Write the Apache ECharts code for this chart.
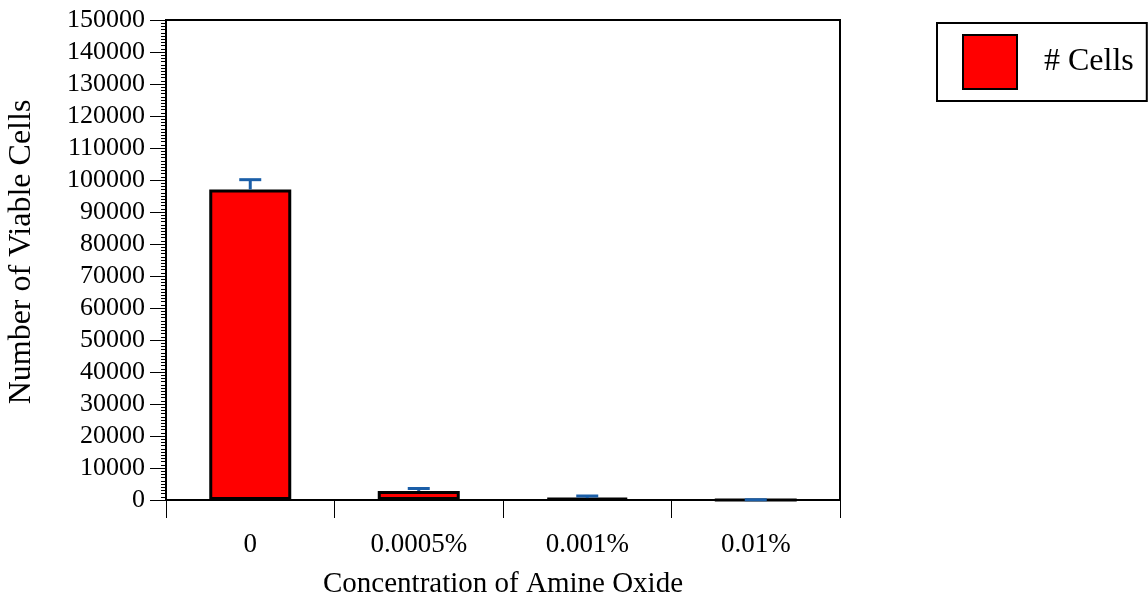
<!DOCTYPE html>
<html>
<head>
<meta charset="utf-8">
<script src="https://cdn.jsdelivr.net/npm/echarts@6/dist/echarts.min.js"></script>
<style>html,body{margin:0;padding:0;background:#fff;}#c{width:1148px;height:603px;}</style>
</head>
<body>
<div id="c"></div>
<script>
const categories = ['0', '0.0005%', '0.001%', '0.01%'];
const cellCounts = [97000, 2800, 600, 20];
const cellErrors = [3100, 800, 650, 60];
const seriesName = '# Cells';

const FONT = '"Liberation Serif", "Times New Roman", serif';
const chart = echarts.init(document.getElementById('c'));
chart.setOption({
  animation: false,
  backgroundColor: '#fff',
  grid: { left: 166, right: 308, top: 20, bottom: 103, outerBoundsMode: 'none', containLabel: false, show: true, borderColor: '#000', borderWidth: 2, backgroundColor: 'transparent' },
  legend: {
    left: 937, top: 23,
    padding: [11, 13, 11, 25],
    borderColor: '#000', borderWidth: 2,
    itemWidth: 54, itemHeight: 54,
    textStyle: { fontFamily: FONT, fontSize: 32, color: '#000', padding: [0, 0, 0, 22] },
    data: [{ name: seriesName, icon: 'rect' }]
  },
  xAxis: {
    type: 'category',
    data: categories,
    name: 'Concentration of Amine Oxide',
    nameLocation: 'middle',
    nameGap: 70,
    nameTextStyle: { fontFamily: FONT, fontSize: 29, color: '#000' },
    axisLine: { lineStyle: { color: '#000', width: 2 } },
    axisTick: { show: true, length: 18, lineStyle: { color: '#000', width: 1 } },
    axisLabel: { fontFamily: FONT, fontSize: 27, color: '#000', margin: 31 }
  },
  yAxis: {
    type: 'value',
    min: 0, max: 150000, interval: 10000,
    name: 'Number of Viable Cells',
    nameLocation: 'middle',
    nameGap: 128,
    nameTextStyle: { fontFamily: FONT, fontSize: 32, color: '#000', padding: [0, 0, 0, 16] },
    axisLine: { show: true, lineStyle: { color: '#000', width: 2 } },
    axisTick: { show: true, length: 16, lineStyle: { color: '#000', width: 1 } },
    minorTick: { show: true, splitNumber: 10, length: 5, lineStyle: { color: '#000', width: 1 } },
    splitLine: { show: false },
    axisLabel: { fontFamily: FONT, fontSize: 26, color: '#000', margin: 21, formatter: function (v) { return String(v); } }
  },
  series: [
    {
      name: seriesName,
      type: 'bar',
      data: cellCounts,
      barWidth: 82,
      itemStyle: { color: '#ff0000', borderColor: '#000', borderWidth: 3 }
    },
    {
      name: 'err',
      type: 'custom',
      z: 5,
      data: cellCounts.map((v, i) => [i, v, v + cellErrors[i]]),
      renderItem: function (params, api) {
        const base = api.coord([api.value(0), api.value(1)]);
        const top = api.coord([api.value(0), api.value(2)]);
        const hw = 11;
        const style = { stroke: '#1a5ea8', lineWidth: 3, fill: null };
        return {
          type: 'group',
          children: [
            { type: 'line', shape: { x1: base[0], y1: base[1], x2: top[0], y2: top[1] }, style: style },
            { type: 'line', shape: { x1: top[0] - hw, y1: top[1], x2: top[0] + hw, y2: top[1] }, style: style }
          ]
        };
      }
    }
  ]
});
</script>
</body>
</html>
